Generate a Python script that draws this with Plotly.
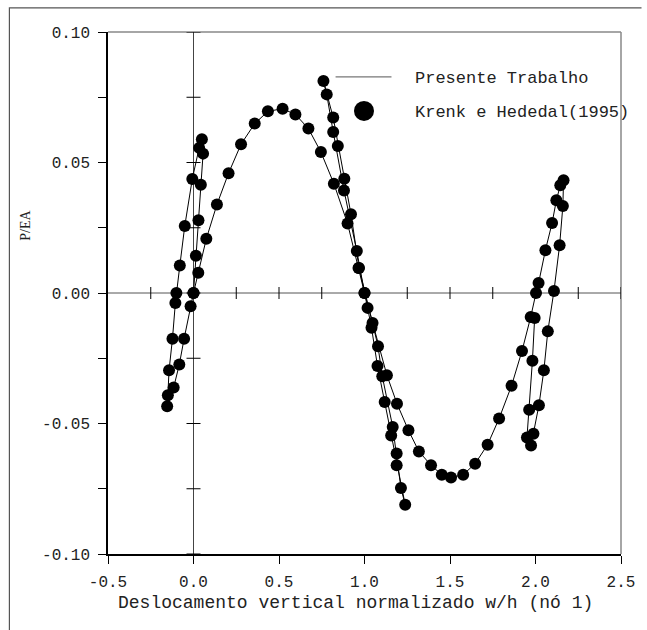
import plotly.graph_objects as go

# ---- data (w/h, P/EA) ----
loop0_w = [0.0, 0.014, 0.029, 0.043, 0.056, 0.049, 0.033, -0.007, -0.051, -0.080, -0.100, -0.106,
           -0.123, -0.143, -0.150, -0.154, -0.116, -0.083, -0.055, -0.017, 0.0]
loop0_p = [0.0, 0.0143, 0.0279, 0.0415, 0.0534, 0.0589, 0.0556, 0.0437, 0.0257, 0.0105, 0.0, -0.0038,
           -0.0175, -0.0296, -0.0392, -0.0434, -0.0362, -0.0274, -0.0175, -0.0051, 0.0]

arc1_w = [0.028, 0.075, 0.137, 0.205, 0.278, 0.358, 0.435, 0.521, 0.596, 0.672, 0.745, 0.821,
          0.901, 0.965, 1.0]
arc1_p = [0.0078, 0.0208, 0.0339, 0.0459, 0.057, 0.0649, 0.0696, 0.0706, 0.0684, 0.063, 0.054, 0.0419,
          0.0266, 0.0096, 0.0]

loop1_w = [1.018, 1.041, 1.076, 1.118, 1.156, 1.188, 1.238, 1.213, 1.188, 1.165, 1.104, 1.079, 1.047,
           0.968, 0.921, 0.882, 0.844, 0.817, 0.760, 0.779, 0.817, 0.880, 0.955, 1.0]
loop1_p = [-0.0057, -0.0133, -0.028, -0.0418, -0.0546, -0.066, -0.0811, -0.0747, -0.0615, -0.0513,
           -0.0319, -0.0204, -0.0115, 0.0096, 0.0302, 0.0438, 0.0563, 0.0672, 0.0812, 0.0761, 0.0617,
           0.0393, 0.0161, 0.0]

arc2_w = [1.131, 1.190, 1.257, 1.318, 1.389, 1.452, 1.506, 1.577, 1.647, 1.720, 1.787, 1.860, 1.921,
          1.972, 2.003, 2.018, 2.058, 2.097, 2.122, 2.145, 2.164]
arc2_p = [-0.0315, -0.0424, -0.0526, -0.0607, -0.066, -0.0696, -0.0707, -0.0696, -0.0654, -0.0581,
          -0.0481, -0.0355, -0.0222, -0.0092, 0.0, 0.0038, 0.0164, 0.0268, 0.0355, 0.0413, 0.0432]

loop2_w = [2.160, 2.141, 2.108, 2.072, 2.049, 2.020, 1.988, 1.974, 1.950, 1.963, 1.982, 1.995]
loop2_p = [0.0333, 0.0183, 0.0008, -0.0147, -0.0296, -0.043, -0.0539, -0.0584, -0.0554, -0.0447,
           -0.026, -0.0096]

x_ticks = [-0.5, 0.0, 0.5, 1.0, 1.5, 2.0, 2.5]
y_ticks = [-0.10, -0.05, 0.0, 0.05, 0.10]
x_range = [-0.5, 2.5]
y_range = [-0.10, 0.10]
legend_names = ["Presente Trabalho", "Krenk e Hededal(1995)"]

w = loop0_w + arc1_w + loop1_w + arc2_w + loop2_w
p = loop0_p + arc1_p + loop1_p + arc2_p + loop2_p

MONO = "Liberation Mono, Courier New, monospace"

fig = go.Figure()
fig.add_trace(go.Scatter(x=w, y=p, mode="lines", line=dict(color="black", width=1),
                         name=legend_names[0], showlegend=False, hoverinfo="skip"))
fig.add_trace(go.Scatter(x=w, y=p, mode="markers", marker=dict(color="black", size=12),
                         name=legend_names[1], showlegend=False))

shapes = []
# frame top/right (gray)
shapes.append(dict(type="line", xref="paper", yref="paper", x0=0, x1=1, y0=1, y1=1,
                   line=dict(color="#888888", width=1.5), layer="below"))
shapes.append(dict(type="line", xref="paper", yref="paper", x0=1, x1=1, y0=0, y1=1,
                   line=dict(color="#888888", width=1.5), layer="below"))
# center axes
shapes.append(dict(type="line", xref="x", yref="y", x0=0, x1=0, y0=y_range[0], y1=y_range[1],
                   line=dict(color="#444444", width=1), layer="below"))
shapes.append(dict(type="line", xref="x", yref="y", x0=x_range[0], x1=x_range[1], y0=0, y1=0,
                   line=dict(color="#555555", width=1), layer="below"))
# crossing ticks on center axes
k = 0
while True:
    yv = round(y_range[0] + 0.025 * k, 4)
    if yv > y_range[1] + 1e-9:
        break
    shapes.append(dict(type="line", xref="x", yref="y", xsizemode="pixel", xanchor=0,
                       x0=-7, x1=7, y0=yv, y1=yv, line=dict(color="black", width=1), layer="below"))
    k += 1
k = 0
while True:
    xv = round(x_range[0] + 0.25 * k, 4)
    if xv > x_range[1] + 1e-9:
        break
    if abs(xv) > 1e-9 and abs(xv - x_range[0]) > 1e-9:
        shapes.append(dict(type="line", xref="x", yref="y", ysizemode="pixel", yanchor=0,
                           y0=-6, y1=6, x0=xv, x1=xv, line=dict(color="black", width=1), layer="below"))
    k += 1
# outer figure border (left and top), as a path in paper space
shapes.append(dict(type="path", xref="paper", yref="paper",
                   path="M -0.1922,-0.16 L -0.1922,1.0463 L 1.04,1.0463",
                   line=dict(color="#555555", width=1.2)))
# legend samples
shapes.append(dict(type="line", xref="paper", yref="paper", x0=0.4436, x1=0.5526, y0=0.9139, y1=0.9139,
                   line=dict(color="#777777", width=1.2)))
shapes.append(dict(type="circle", xref="paper", yref="paper", xsizemode="pixel", ysizemode="pixel",
                   xanchor=0.499, yanchor=0.8488, x0=-10, x1=10, y0=-10, y1=10,
                   fillcolor="black", line=dict(color="black", width=0)))

annotations = [
    dict(text=legend_names[0], xref="paper", yref="paper", x=0.594, y=0.910, xanchor="left",
         yanchor="middle", showarrow=False, font=dict(family=MONO, size=17, color="#222222")),
    dict(text=legend_names[1], xref="paper", yref="paper", x=0.594, y=0.845, xanchor="left",
         yanchor="middle", showarrow=False, font=dict(family=MONO, size=17, color="#222222")),
    dict(text="Deslocamento vertical normalizado w/h (nó 1)", xref="paper", yref="paper",
         x=0.4818, y=-0.0930, xanchor="center", yanchor="middle", showarrow=False,
         font=dict(family=MONO, size=18, color="#222222")),
    dict(text="P/EA", xref="paper", yref="paper", x=-0.1606, y=0.6300, xanchor="center",
         yanchor="middle", textangle=-90, showarrow=False,
         font=dict(family="Liberation Serif, Times New Roman, serif", size=14, color="#222222")),
]

fig.update_layout(
    width=647, height=630,
    margin=dict(l=108, r=16, t=32, b=76, pad=0),
    paper_bgcolor="white", plot_bgcolor="white",
    showlegend=False,
    shapes=shapes, annotations=annotations,
    xaxis=dict(range=x_range, tickvals=x_ticks, ticktext=["%.1f" % v for v in x_ticks],
               showgrid=False, zeroline=False, showline=True, linecolor="black", linewidth=1.5,
               ticks="outside", ticklen=8, tickcolor="black", ticklabelstandoff=4,
               tickfont=dict(family=MONO, size=16, color="#222222")),
    yaxis=dict(range=y_range, tickvals=y_ticks, ticktext=["%.2f" % v for v in y_ticks],
               showgrid=False, zeroline=False, showline=True, linecolor="black", linewidth=1.5,
               ticks="outside", ticklen=8, tickcolor="black", ticklabelstandoff=5,
               minor=dict(dtick=0.025, tick0=0, ticks="outside", ticklen=8, tickcolor="black", showgrid=False),
               tickfont=dict(family=MONO, size=16, color="#222222")),
)

fig.write_html("out.html", config={"displayModeBar": False},
               post_script="document.documentElement.style.overflow='hidden';"
                           "document.body.style.margin='0';document.body.style.overflow='hidden';")
